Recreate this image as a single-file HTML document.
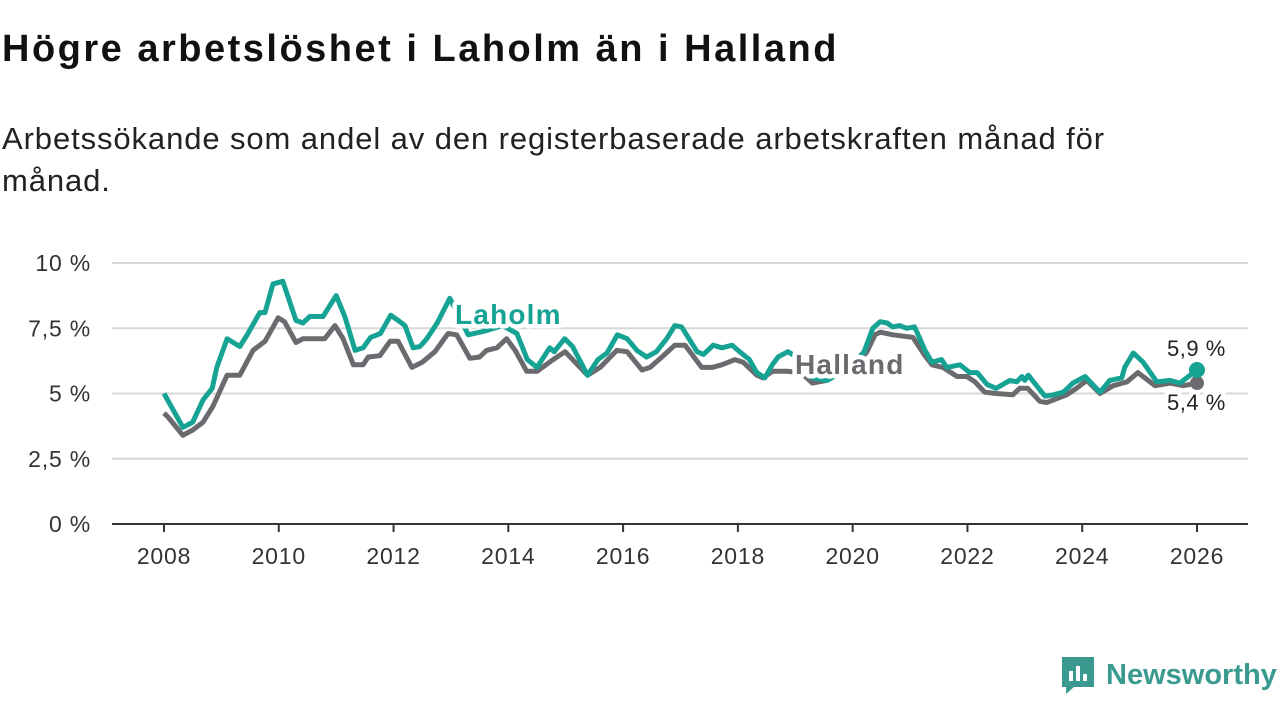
<!DOCTYPE html>
<html><head><meta charset="utf-8">
<style>
body{margin:0;width:1280px;height:720px;background:#fff;font-family:"Liberation Sans",sans-serif;overflow:hidden;position:relative}
h1{position:absolute;left:2px;top:28px;margin:0;font-size:38px;font-weight:bold;color:#111;letter-spacing:2.5px}
.sub{position:absolute;left:2px;top:118px;margin:0;font-size:31px;line-height:42px;color:#222;width:1185px;letter-spacing:0.9px}
svg{position:absolute;left:0;top:0}
.logo{position:absolute;left:1060px;top:655px;display:flex;align-items:center;gap:10px;color:#3a9a8f;font-size:29px;font-weight:bold}
</style></head><body>
<h1>Högre arbetslöshet i Laholm än i Halland</h1>
<p class="sub">Arbetssökande som andel av den registerbaserade arbetskraften månad för månad.</p>
<svg id="chart" width="1280" height="720"></svg>
<div class="logo">
<svg width="36" height="40" viewBox="0 0 36 40" style="position:static"><path d="M2 2h32v30H14l-8 7v-7H2z" fill="#3a9a8f"/><rect x="9" y="16" width="4" height="10" fill="#fff"/><rect x="16" y="11" width="4" height="15" fill="#fff"/><rect x="23" y="19" width="4" height="7" fill="#fff"/></svg>
<span>Newsworthy</span></div>
<script>
const yTicks=[0,2.5,5,7.5,10];
const yTickLabels=["0 %","2,5 %","5 %","7,5 %","10 %"];
const xTicks=[2008,2010,2012,2014,2016,2018,2020,2022,2024,2026];
const lahYears=[2008.0,2008.33,2008.5,2008.68,2008.84,2008.92,2009.1,2009.32,2009.45,2009.67,2009.76,2009.9,2010.07,2010.3,2010.42,2010.54,2010.77,2011.0,2011.15,2011.33,2011.47,2011.6,2011.77,2011.95,2012.08,2012.2,2012.34,2012.46,2012.58,2012.76,2012.98,2013.3,2013.6,2013.9,2014.15,2014.33,2014.5,2014.72,2014.8,2014.98,2015.12,2015.38,2015.56,2015.72,2015.9,2016.07,2016.24,2016.41,2016.58,2016.76,2016.9,2017.02,2017.29,2017.4,2017.57,2017.72,2017.9,2018.03,2018.2,2018.33,2018.47,2018.6,2018.7,2018.87,2019.1,2019.3,2019.55,2019.8,2020.0,2020.2,2020.35,2020.48,2020.6,2020.7,2020.82,2020.94,2021.08,2021.26,2021.38,2021.55,2021.64,2021.87,2022.04,2022.17,2022.34,2022.5,2022.74,2022.86,2022.95,2023.0,2023.06,2023.35,2023.5,2023.67,2023.84,2024.05,2024.31,2024.48,2024.69,2024.74,2024.89,2025.06,2025.3,2025.53,2025.7,2026.0];
const lahVals=[5.0,3.7,3.9,4.75,5.2,6.0,7.1,6.8,7.25,8.1,8.1,9.2,9.3,7.8,7.7,7.95,7.95,8.75,7.95,6.65,6.75,7.15,7.3,8.0,7.8,7.6,6.75,6.8,7.1,7.7,8.65,7.25,7.4,7.6,7.3,6.3,6.0,6.75,6.6,7.1,6.8,5.7,6.3,6.55,7.25,7.1,6.65,6.4,6.6,7.1,7.6,7.55,6.6,6.5,6.85,6.75,6.85,6.6,6.3,5.8,5.6,6.1,6.4,6.6,6.3,5.6,5.5,5.8,6.1,6.6,7.5,7.75,7.7,7.55,7.6,7.5,7.55,6.65,6.2,6.3,6.0,6.1,5.8,5.8,5.35,5.2,5.5,5.45,5.65,5.5,5.7,4.9,4.95,5.05,5.4,5.65,5.05,5.5,5.6,6.0,6.55,6.2,5.45,5.5,5.4,5.9];
const halYears=[2008.0,2008.07,2008.33,2008.5,2008.68,2008.85,2009.1,2009.32,2009.55,2009.76,2009.99,2010.1,2010.3,2010.42,2010.8,2010.98,2011.12,2011.3,2011.47,2011.56,2011.76,2011.94,2012.08,2012.32,2012.5,2012.72,2012.95,2013.1,2013.33,2013.5,2013.62,2013.8,2013.97,2014.12,2014.32,2014.5,2014.78,2014.99,2015.38,2015.6,2015.89,2016.07,2016.33,2016.47,2016.7,2016.9,2017.08,2017.37,2017.55,2017.72,2017.95,2018.09,2018.33,2018.44,2018.6,2018.85,2019.1,2019.3,2019.55,2019.8,2020.05,2020.25,2020.39,2020.48,2020.7,2021.05,2021.26,2021.38,2021.57,2021.82,2021.99,2022.13,2022.3,2022.5,2022.79,2022.91,2023.05,2023.26,2023.38,2023.73,2023.9,2024.08,2024.31,2024.54,2024.78,2024.97,2025.27,2025.53,2025.76,2026.0];
const halVals=[4.25,4.1,3.4,3.6,3.9,4.5,5.7,5.7,6.65,7.0,7.9,7.75,6.95,7.1,7.1,7.6,7.1,6.1,6.1,6.4,6.45,7.0,7.0,6.0,6.2,6.6,7.3,7.25,6.35,6.4,6.65,6.75,7.1,6.65,5.85,5.85,6.3,6.6,5.7,6.0,6.65,6.6,5.9,6.0,6.45,6.85,6.85,6.0,6.0,6.1,6.3,6.2,5.7,5.6,5.85,5.85,5.8,5.4,5.5,5.8,6.1,6.6,7.25,7.35,7.25,7.15,6.45,6.1,6.0,5.65,5.65,5.45,5.05,5.0,4.95,5.2,5.2,4.7,4.65,4.95,5.2,5.5,5.0,5.3,5.45,5.8,5.3,5.4,5.3,5.4];

const NS="http://www.w3.org/2000/svg";
const svg=document.getElementById('chart');
const X0=164,X1=1197,Y0=524,Y1=263;
const xs=v=>X0+(v-2008)/(2026-2008)*(X1-X0);
const ys=v=>Y0-(v/10)*(Y0-Y1);
function mk(tag,attrs){const e=document.createElementNS(NS,tag);for(const k in attrs)e.setAttribute(k,attrs[k]);svg.appendChild(e);return e;}
yTicks.forEach((t,i)=>{
  if(t>0){const g=mk('line',{x1:112,x2:1248,y1:ys(t),y2:ys(t),stroke:'#d8d8d8','stroke-width':2});
  
  }
  const l=mk('text',{x:91,y:ys(t)+8,'text-anchor':'end','font-size':23,'letter-spacing':0.8,fill:'#333','font-family':'Liberation Sans, sans-serif'});
  l.textContent=yTickLabels[i];
  
  
});
const ax=mk('line',{x1:112,x2:1248,y1:Y0,y2:Y0,stroke:'#333','stroke-width':2});


xTicks.forEach(t=>{
  const tk=mk('line',{x1:xs(t),x2:xs(t),y1:Y0,y2:Y0+8,stroke:'#333','stroke-width':2});
  
  
  const l=mk('text',{x:xs(t),y:Y0+40,'text-anchor':'middle','font-size':23,'letter-spacing':0.8,fill:'#333','font-family':'Liberation Sans, sans-serif'});
  l.textContent=t;
  
  
});
function line(xa,va,color,name){
  const d=xa.map((x,i)=>(i?'L':'M')+xs(x).toFixed(1)+','+ys(va[i]).toFixed(1)).join('');
  const p=mk('path',{d:d,fill:'none',stroke:color,'stroke-width':5,'stroke-linejoin':'round'});
  
  
}
line(halYears,halVals,'#6b6a6f','halland-line');
line(lahYears,lahVals,'#16a394','laholm-line');
function lbl(x,y,txt,color,name,size,weight,ls){
  const t=mk('text',{x:x,y:y,'font-size':size,'font-weight':weight,'letter-spacing':ls,fill:color,stroke:'#fff','stroke-width':9,'paint-order':'stroke','stroke-linejoin':'round','font-family':'Liberation Sans, sans-serif'});
  t.textContent=txt;
  
  
}
lbl(455,324,'Laholm','#16a394','laholm-label',28,'bold',1.2);
lbl(795,374,'Halland','#6b6a6f','halland-label',28,'bold',1.2);
const d1=mk('circle',{cx:xs(halYears[halYears.length-1]),cy:ys(halVals[halVals.length-1]),r:7,fill:'#6b6a6f'});


const d2=mk('circle',{cx:xs(lahYears[lahYears.length-1]),cy:ys(lahVals[lahVals.length-1]),r:8,fill:'#16a394'});


lbl(1167,356,'5,9 %','#222','laholm-end-value',22,'normal',0.5);
lbl(1167,410,'5,4 %','#222','halland-end-value',22,'normal',0.5);
</script>
</body></html>
